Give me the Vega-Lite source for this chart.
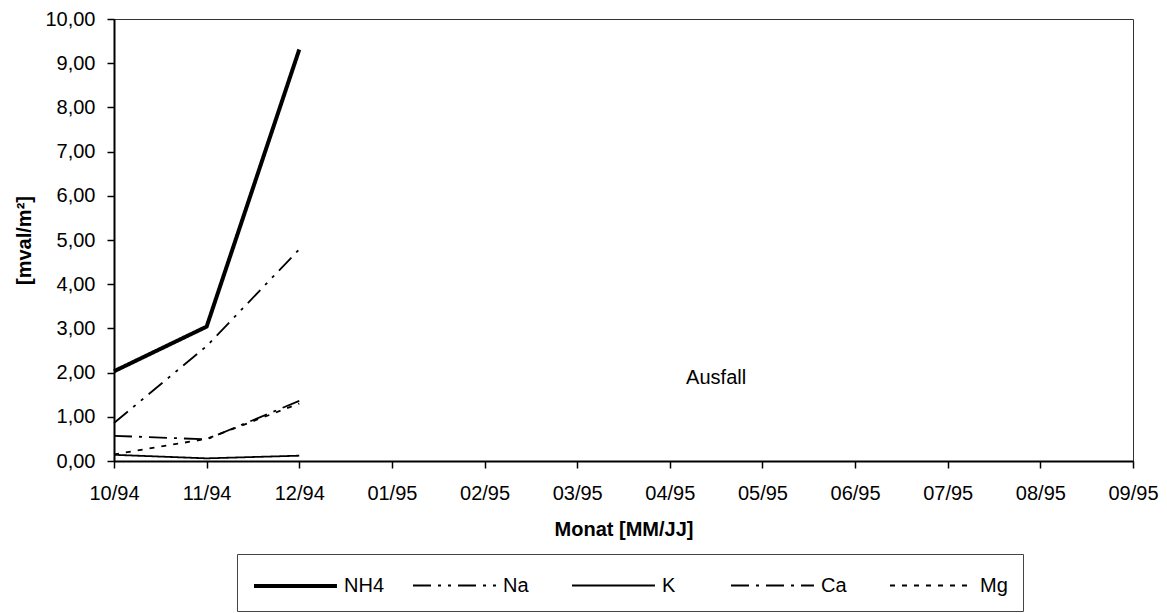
{
  "$schema": "https://vega.github.io/schema/vega-lite/v6.json",
  "width": 1019,
  "height": 442,
  "autosize": {"type": "none"},
  "padding": {"left": 114, "top": 19, "right": 34, "bottom": 152},
  "background": "white",
  "config": {
    "font": "Liberation Sans",
    "view": {"stroke": "#333333", "strokeWidth": 1},
    "axis": {"grid": false, "domainColor": "#000000", "domainWidth": 2, "tickColor": "#000000", "tickWidth": 1.5, "tickSize": 7, "labelFont": "Liberation Sans", "labelFontSize": 20, "labelColor": "#000000", "titleFont": "Liberation Sans", "titleFontSize": 20, "titleFontWeight": "bold", "titleColor": "#000000"}
  },
  "layer": [
    {
      "data": {
        "values": [
          {"Monat": "10/94", "idx": 0, "Ion": "NH4", "wert": 2.03},
          {"Monat": "11/94", "idx": 1, "Ion": "NH4", "wert": 3.04},
          {"Monat": "12/94", "idx": 2, "Ion": "NH4", "wert": 9.31},
          {"Monat": "10/94", "idx": 0, "Ion": "Na", "wert": 0.86},
          {"Monat": "11/94", "idx": 1, "Ion": "Na", "wert": 2.6},
          {"Monat": "12/94", "idx": 2, "Ion": "Na", "wert": 4.79},
          {"Monat": "10/94", "idx": 0, "Ion": "K", "wert": 0.14},
          {"Monat": "11/94", "idx": 1, "Ion": "K", "wert": 0.06},
          {"Monat": "12/94", "idx": 2, "Ion": "K", "wert": 0.12},
          {"Monat": "10/94", "idx": 0, "Ion": "Ca", "wert": 0.57},
          {"Monat": "11/94", "idx": 1, "Ion": "Ca", "wert": 0.49},
          {"Monat": "12/94", "idx": 2, "Ion": "Ca", "wert": 1.36},
          {"Monat": "10/94", "idx": 0, "Ion": "Mg", "wert": 0.15},
          {"Monat": "11/94", "idx": 1, "Ion": "Mg", "wert": 0.5},
          {"Monat": "12/94", "idx": 2, "Ion": "Mg", "wert": 1.3}
        ]
      },
      "mark": {"type": "line", "color": "#000000"},
      "encoding": {
        "x": {
          "field": "idx", "type": "quantitative",
          "scale": {"domain": [0, 11], "nice": false, "zero": false},
          "axis": {
            "title": "Monat [MM/JJ]",
            "values": [0, 1, 2, 3, 4, 5, 6, 7, 8, 9, 10, 11],
            "labelExpr": "['10/94','11/94','12/94','01/95','02/95','03/95','04/95','05/95','06/95','07/95','08/95','09/95'][datum.value]",
            "labelPadding": 15,
            "titlePadding": 16,
            "labelFlush": false,
            "labelOverlap": false
          }
        },
        "y": {
          "field": "wert", "type": "quantitative",
          "scale": {"domain": [0, 10], "nice": false},
          "axis": {
            "title": "[mval/m²]",
            "values": [0, 1, 2, 3, 4, 5, 6, 7, 8, 9, 10],
            "labelExpr": "replace(format(datum.value, '.2f'), '.', ',')",
            "labelPadding": 12,
            "titlePadding": 10,
            "labelFlush": false,
            "labelOverlap": false
          }
        },
        "strokeDash": {
          "field": "Ion", "type": "nominal",
          "scale": {"domain": ["NH4", "Na", "K", "Ca", "Mg"], "range": [[1, 0], [18, 7, 3, 7, 3, 7], [1, 0], [18, 7, 3, 7], [5, 7]]},
          "legend": {
            "title": null,
            "orient": "none",
            "legendX": 123,
            "legendY": 535,
            "direction": "horizontal",
            "columns": 5,
            "gridAlign": "all",
            "columnPadding": 24,
            "symbolType": "M-1,0H4.53",
            "symbolSize": 900,
            "symbolStrokeColor": "#000000",
            "labelFontSize": 20,
            "labelFont": "Liberation Sans",
            "labelColor": "#000000",
            "labelOffset": 58,
            "padding": 15,
            "strokeColor": "#444444",
            "fillColor": "#ffffff"
          }
        },
        "strokeWidth": {
          "field": "Ion", "type": "nominal",
          "scale": {"type": "ordinal", "domain": ["NH4", "Na", "K", "Ca", "Mg"], "range": [4, 1.8, 1.8, 1.8, 1.8]},
          "legend": null
        }
      }
    },
    {
      "data": {"values": [{"idx": 6.5, "wert": 1.88, "label": "Ausfall"}]},
      "mark": {"type": "text", "font": "Liberation Sans", "fontSize": 20, "color": "#000000", "align": "center", "baseline": "middle"},
      "encoding": {
        "x": {"field": "idx", "type": "quantitative"},
        "y": {"field": "wert", "type": "quantitative"},
        "text": {"field": "label"}
      }
    }
  ]
}
